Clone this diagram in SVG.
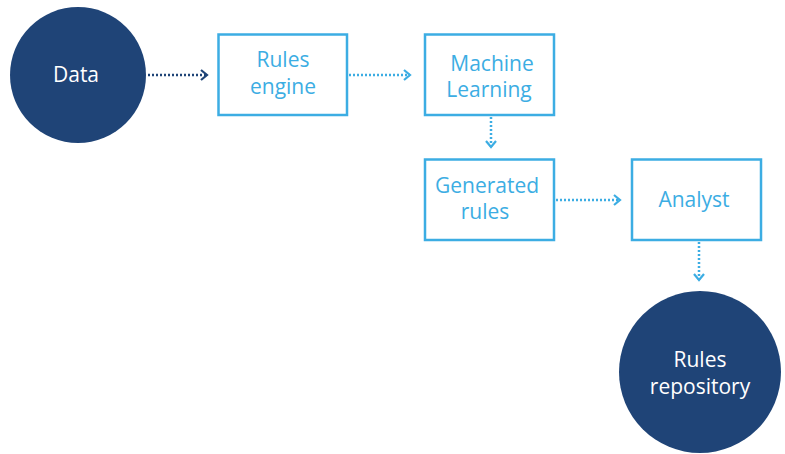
<svg xmlns="http://www.w3.org/2000/svg" width="785" height="454" viewBox="0 0 785 454">
  <style>
    .dark { fill: #1f4477; }
    .box { fill: #ffffff; stroke: #3cade3; stroke-width: 2.5; }
    .lbl { font-family: "Open Sans", "Noto Sans", sans-serif; font-size: 21px; text-anchor: middle; }
    .lbl-light { fill: #3cade3; }
    .lbl-dark { fill: #ffffff; }
    .flow { fill: none; stroke-width: 2.5; stroke-dasharray: 2 2; }
    .flow-dark { stroke: #1f4477; }
    .flow-light { stroke: #3cade3; }
  </style>
  <defs>
    <marker id="chev-dark" viewBox="0 0 10 12" refX="8" refY="6" markerWidth="10" markerHeight="12" markerUnits="userSpaceOnUse" orient="auto">
      <path d="M2 1 L8 6 L2 11" fill="none" stroke="#1f4477" stroke-width="2.2"/>
    </marker>
    <marker id="chev-light" viewBox="0 0 10 12" refX="8" refY="6" markerWidth="10" markerHeight="12" markerUnits="userSpaceOnUse" orient="auto">
      <path d="M2 1 L8 6 L2 11" fill="none" stroke="#3cade3" stroke-width="2.2"/>
    </marker>
  </defs>

  <g id="connectors">
    <path class="flow flow-dark" d="M148 75 H207" marker-end="url(#chev-dark)"/>
    <path class="flow flow-light" d="M349 75 H410" marker-end="url(#chev-light)"/>
    <path class="flow flow-light" d="M491 117 V147" marker-end="url(#chev-light)"/>
    <path class="flow flow-light" d="M556 200 H620" marker-end="url(#chev-light)"/>
    <path class="flow flow-light" d="M699 242 V280" marker-end="url(#chev-light)"/>
  </g>

  <g id="data">
    <circle class="dark" cx="78" cy="75" r="68"/>
    <text class="lbl lbl-dark" x="76" y="82">Data</text>
  </g>

  <g id="rules-engine">
    <rect class="box" x="218.5" y="34.5" width="128.5" height="80.5"/>
    <text class="lbl lbl-light" x="283" y="67">Rules</text>
    <text class="lbl lbl-light" x="283" y="94">engine</text>
  </g>

  <g id="machine-learning">
    <rect class="box" x="425" y="34.5" width="129" height="80.5"/>
    <text class="lbl lbl-light" x="492" y="71">Machine</text>
    <text class="lbl lbl-light" x="489" y="97">Learning</text>
  </g>

  <g id="generated-rules">
    <rect class="box" x="425" y="159.5" width="129" height="80.5"/>
    <text class="lbl lbl-light" x="487" y="193">Generated</text>
    <text class="lbl lbl-light" x="485" y="219">rules</text>
  </g>

  <g id="analyst">
    <rect class="box" x="632" y="159.5" width="129" height="80.5"/>
    <text class="lbl lbl-light" x="694" y="207">Analyst</text>
  </g>

  <g id="rules-repository">
    <circle class="dark" cx="700" cy="372" r="81"/>
    <text class="lbl lbl-dark" x="700" y="367">Rules</text>
    <text class="lbl lbl-dark" x="700" y="394">repository</text>
  </g>
</svg>
